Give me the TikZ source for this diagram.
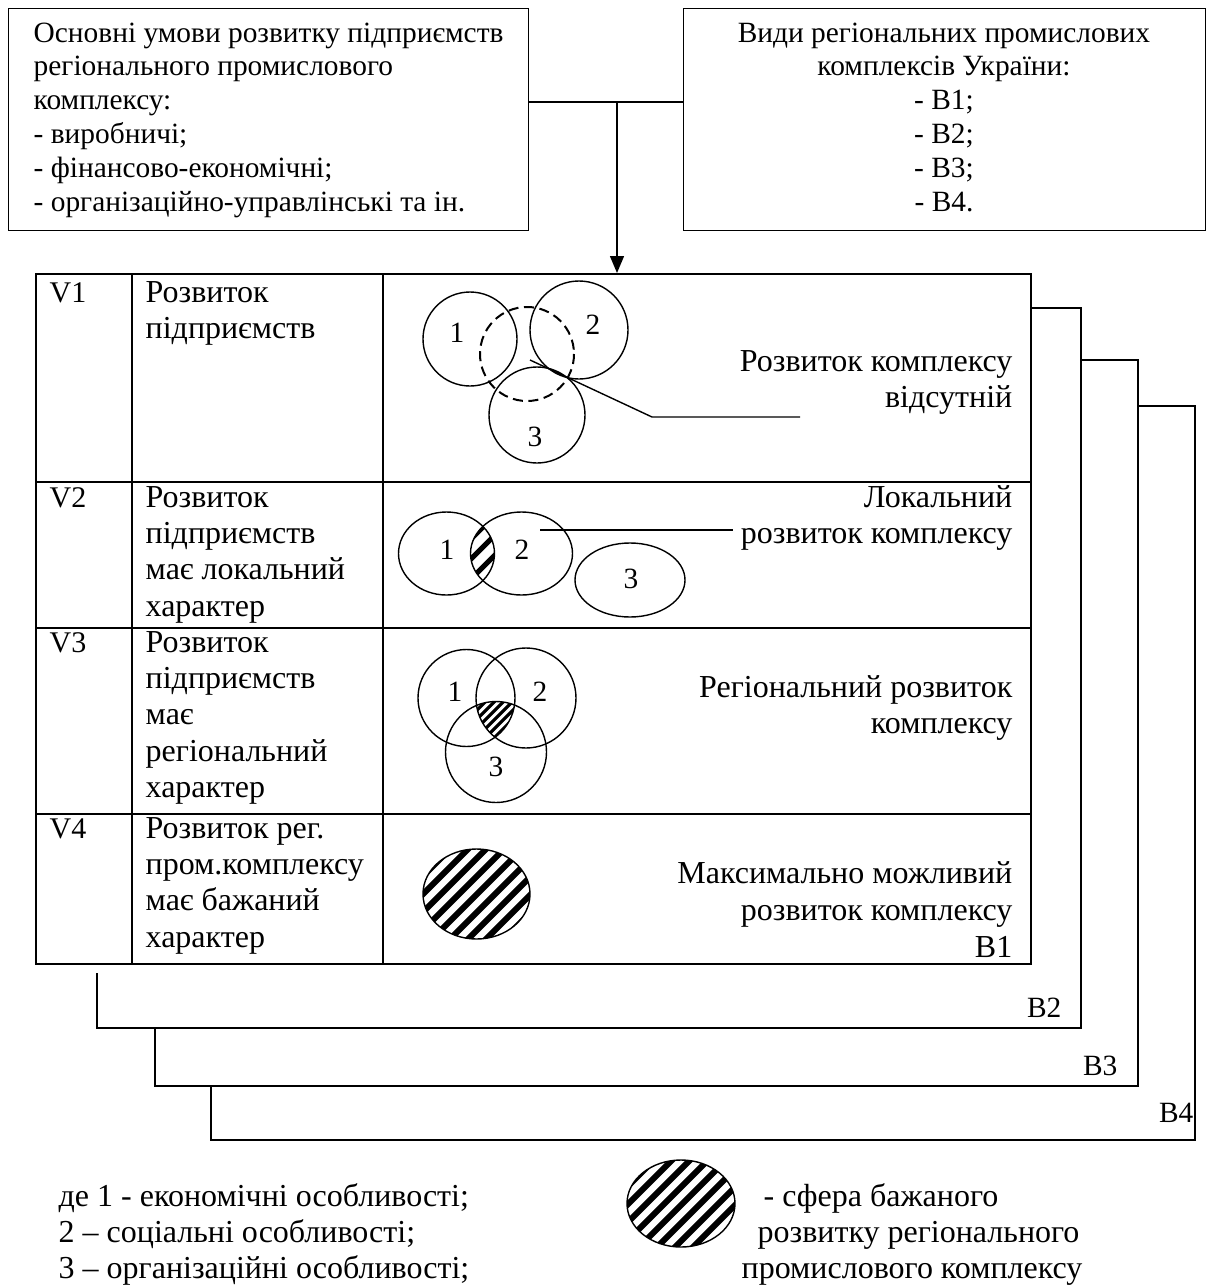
\documentclass[tikz,border=0pt]{standalone}
\usepackage{fontspec}
\setmainfont{Liberation Serif}
\usetikzlibrary{arrows.meta}

\begin{document}
\begin{tikzpicture}[x=0.5pt,y=-0.5pt,line width=0.7pt,
	every node/.style={inner sep=0pt,font=\fontsize{14.7}{17}\selectfont},
	big/.style={font=\fontsize{16}{18}\selectfont},
	lft/.style={anchor=base west},
	rgt/.style={anchor=base east},
	ctr/.style={anchor=base},
	num/.style={anchor=center}]
	\useasboundingbox (0,0) rectangle (1208,1285);

	%TOP BOXES
	\node[draw,anchor=north west,minimum width=260pt,minimum height=111pt] (cond) at (8,8) {};
	\node[draw,anchor=north west,minimum width=261pt,minimum height=111pt] (kind) at (683,8) {};
	\foreach \t [count=\i] in {Основні умови розвитку підприємств,регіонального промислового,комплексу:,- виробничі;,- фінансово-економічні;,- організаційно-управлінські та ін.}
		\node[lft] (cond\i) at (33,{42+33.8*(\i-1)}) {\t};
	\foreach \t [count=\i] in {Види регіональних промислових,комплексів України:,- B1;,- B2;,- B3;,- B4.}
		\node[ctr] (kind\i) at (944,{42+33.8*(\i-1)}) {\t};

	%TABLE
	\node[draw,line width=1pt,anchor=north west,minimum width=497.5pt,minimum height=345pt] (tab) at (35,273) {};
	\coordinate (join) at (617,102);
	\draw (cond.east |- join) -- (kind.west |- join);
	\draw[-{Triangle[length=8.5pt,width=7pt]}] (join) -- (join |- tab.north);
	\draw[line width=1pt] (132,273) -- (132,963);
	\draw[line width=1pt] (383,273) -- (383,963);
	\foreach \y in {482,628,814}
		\draw[line width=1pt] (35,\y) -- (1030,\y);

	%BACK SHEETS
	\draw (1030,308) -- (1081,308) -- (1081,1028) -- (97,1028) -- (97,973);
	\draw (1081,360) -- (1138,360) -- (1138,1086) -- (155,1086) -- (155,1028);
	\draw (1138,406) -- (1195,406) -- (1195,1140) -- (211,1140) -- (211,1086);
	\node[rgt] (b2) at (1062,1017) {B2};
	\node[rgt] (b3) at (1118,1075) {B3};
	\node[rgt] (b4) at (1194,1122) {B4};

	%ROW LABELS
	\node[lft,font=\fontsize{15}{18}\selectfont] (v1) at (49,302) {V1};
	\node[lft,font=\fontsize{15}{18}\selectfont] (v2) at (49,507) {V2};
	\node[lft,font=\fontsize{15}{18}\selectfont] (v3) at (49,652) {V3};
	\node[lft,font=\fontsize{15}{18}\selectfont] (v4) at (49,838) {V4};
	\foreach \t [count=\i] in {Розвиток,підприємств}
		\node[lft,big] (ra\i) at (145,{302+36.4*(\i-1)}) {\t};
	\foreach \t [count=\i] in {Розвиток,підприємств,має локальний,характер}
		\node[lft,big] (rb\i) at (145,{507+36.4*(\i-1)}) {\t};
	\foreach \t [count=\i] in {Розвиток,підприємств,має,регіональний,характер}
		\node[lft,big] (rc\i) at (145,{652+36.4*(\i-1)}) {\t};
	\foreach \t [count=\i] in {Розвиток рег.,пром.комплексу,має бажаний,характер}
		\node[lft,big] (rd\i) at (145,{838+36.4*(\i-1)}) {\t};

	%RIGHT TEXTS
	\node[rgt,big] (sa1) at (1013,371) {Розвиток комплексу};
	\node[rgt,big] (sa2) at (1013,407) {відсутній};
	\node[rgt,big] (sb1) at (1013,507) {Локальний};
	\node[rgt,big] (sb2) at (1013,543) {розвиток комплексу};
	\node[rgt,big] (sc1) at (1013,697) {Регіональний розвиток};
	\node[rgt,big] (sc2) at (1013,733) {комплексу};
	\node[rgt,big] (sd1) at (1013,883) {Максимально можливий};
	\node[rgt,big] (sd2) at (1013,920) {розвиток комплексу};
	\node[rgt,big] (sd3) at (1013,957) {B1};

	%V1 CIRCLES
	\draw (470,339) circle (47);
	\draw (579,330) circle (49);
	\draw (537,415) circle (48);
	\draw[line width=1pt,dash pattern=on 5pt off 2.8pt] (527,354) circle (47);
	\node[num] (a1) at (457,333) {1};
	\node[num] (a2) at (593,325) {2};
	\node[num] (a3) at (535,437) {3};
	\coordinate (pa) at (530,360);
	\coordinate (pb) at (652,417);
	\coordinate (pc) at (800,417);
	\draw (pa) -- (pb) -- (pc);

	%V2 ELLIPSES
	\begin{scope}
		\clip (446.5,553.5) ellipse [x radius=48,y radius=41.5];
		\clip (521.5,553.5) ellipse [x radius=51,y radius=41.5];
		\foreach \k in {370,390,...,510}
			\draw[line width=2.6pt] (\k,600) -- ++(100,-100);
	\end{scope}
	\draw (446.5,553.5) ellipse [x radius=48,y radius=41.5];
	\draw (521.5,553.5) ellipse [x radius=51,y radius=41.5];
	\draw (630,580) ellipse [x radius=55,y radius=37];
	\node[num] (b1) at (447,550) {1};
	\node[num] (b2) at (522,550) {2};
	\node[num] (b3) at (631,579) {3};
	\coordinate (pd) at (540,530);
	\coordinate (pe) at (733,530);
	\draw (pd) -- (pe);

	%V3 CIRCLES
	\begin{scope}
		\clip (466.5,698) circle (48.5);
		\clip (526,698) circle (50);
		\clip (496,752) circle (50.5);
		\foreach \k in {400,409,...,540}
			\draw[line width=1.6pt] (\k,760) -- ++(80,-80);
	\end{scope}
	\draw (466.5,698) circle (48.5);
	\draw (526,698) circle (50);
	\draw (496,752) circle (50.5);
	\node[num] (c1) at (455,692) {1};
	\node[num] (c2) at (540,692) {2};
	\node[num] (c3) at (496,767) {3};

	%V4 ELLIPSE
	\begin{scope}
		\clip (476.5,894) ellipse [x radius=53.5,y radius=45];
		\foreach \k in {300,318,...,540}
			\draw[line width=3pt] (\k,945) -- ++(110,-110);
	\end{scope}
	\draw (476.5,894) ellipse [x radius=53.5,y radius=45];

	%LEGEND
	\begin{scope}
		\clip (681,1203.5) ellipse [x radius=54,y radius=43.5];
		\foreach \k in {505,523,...,745}
			\draw[line width=3pt] (\k,1255) -- ++(110,-110);
	\end{scope}
	\draw (681,1203.5) ellipse [x radius=54,y radius=43.5];
	\node[lft,big] (la1) at (58,1206) {де 1 - економічні особливості;};
	\node[lft,big] (la2) at (58,1242) {2 – соціальні особливості;};
	\node[lft,big] (la3) at (58,1278) {3 – організаційні особливості;};
	\node[lft,big] (lb1) at (763,1206) {- сфера бажаного};
	\node[lft,big] (lb2) at (757,1242) {розвитку регіонального};
	\node[lft,big] (lb3) at (741,1278) {промислового комплексу};
\end{tikzpicture}
\end{document}
